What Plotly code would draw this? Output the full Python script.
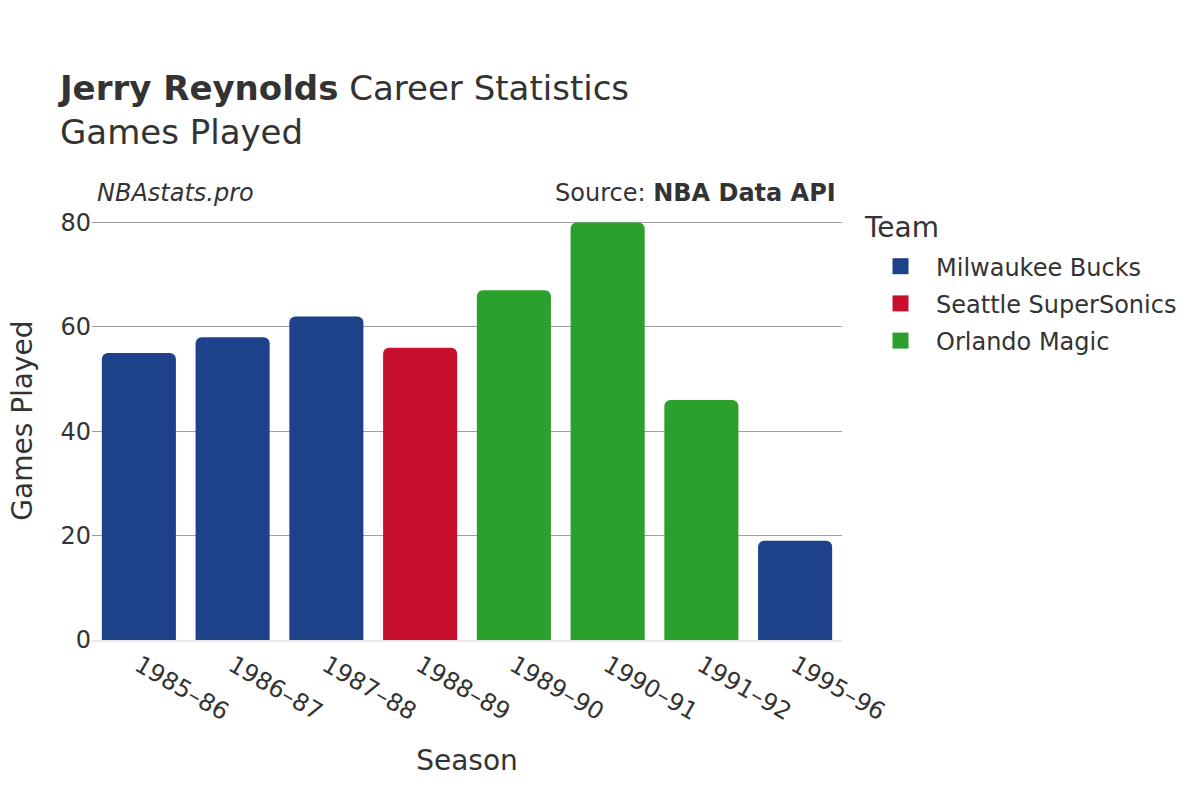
import plotly.graph_objects as go

seasons = ["1985–86", "1986–87", "1987–88", "1988–89", "1989–90", "1990–91", "1991–92", "1995–96"]
teams = ["Milwaukee Bucks", "Milwaukee Bucks", "Milwaukee Bucks", "Seattle SuperSonics",
         "Orlando Magic", "Orlando Magic", "Orlando Magic", "Milwaukee Bucks"]
games = [55, 58, 62, 56, 67, 80, 46, 19]

team_order = ["Milwaukee Bucks", "Seattle SuperSonics", "Orlando Magic"]
team_colors = {"Milwaukee Bucks": "#1d428a", "Seattle SuperSonics": "#c8102e", "Orlando Magic": "#2ca02c"}

FONT = "DejaVu Sans"
fig = go.Figure()
for t in team_order:
    xs = [s for s, tm in zip(seasons, teams) if tm == t]
    ys = [g for g, tm in zip(games, teams) if tm == t]
    fig.add_trace(go.Bar(x=xs, y=ys, name=t, marker_color=team_colors[t],
                         marker_line_width=0, showlegend=False, legendgroup=t))
    fig.add_trace(go.Scatter(x=[None], y=[None], mode="markers", name=t, legendgroup=t,
                             marker=dict(symbol="square", size=22, color=team_colors[t])))

fig.update_layout(
    width=1200, height=800,
    barmode="relative", bargap=0.21, barcornerradius=6,
    paper_bgcolor="white", plot_bgcolor="white",
    font=dict(family=FONT, color="#333333", size=24),
    margin=dict(l=84, r=366, t=204, b=168, autoexpand=False),
    title=dict(text="<b>Jerry Reynolds</b> Career Statistics<br>Games Played",
               x=0.0433, xanchor="left", y=0.885, yanchor="top",
               font=dict(size=34, family=FONT, color="#333333")),
    legend=dict(font=dict(size=24),
                x=1.0307, xanchor="left", y=0.925, yanchor="top",
                itemwidth=61, tracegroupgap=3),
    xaxis=dict(categoryorder="array", categoryarray=seasons, tickangle=30,
               title=dict(text="Season", font=dict(size=28), standoff=25),
               showline=True, linecolor="#e8e8e8", linewidth=2, ticks="",
               automargin=False),
    yaxis=dict(range=[0, 82], tickvals=[0, 20, 40, 60, 80],
               gridcolor="#a0a0a0", gridwidth=1, zeroline=False, automargin=False),
    annotations=[
        dict(text="Games Played", xref="paper", yref="paper", x=-0.093, y=0.513,
             xanchor="center", yanchor="middle", textangle=-90, showarrow=False,
             font=dict(size=28)),
        dict(text="<i>NBAstats.pro</i>", xref="paper", yref="paper", x=0.004, y=1.007,
             xanchor="left", yanchor="bottom", showarrow=False, font=dict(size=24)),
        dict(text="Source: <b>NBA Data API</b>", xref="paper", yref="paper", x=0.995, y=1.007,
             xanchor="right", yanchor="bottom", showarrow=False, font=dict(size=24)),
        dict(text="Team", xref="paper", yref="paper", x=1.0267, y=0.92,
             xanchor="left", yanchor="bottom", showarrow=False, font=dict(size=28)),
    ],
)
fig.write_html("out.html")
